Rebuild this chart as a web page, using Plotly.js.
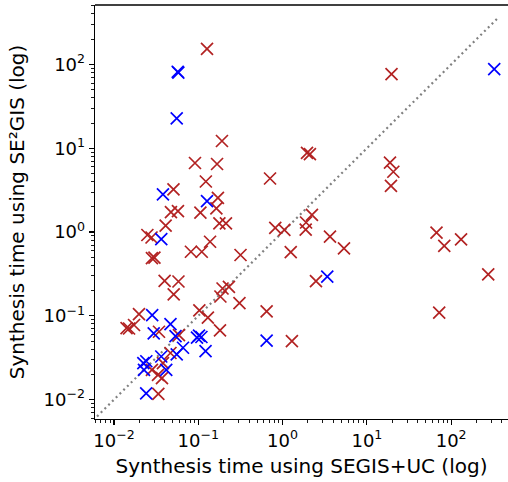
<!DOCTYPE html>
<html>
<head>
<meta charset="utf-8">
<script src="https://cdn.plot.ly/plotly-3.0.1.min.js"></script>
<style>html,body{margin:0;padding:0;background:#fff;}#chart{width:508px;height:482px;}</style>
</head>
<body>
<div id="chart"></div>
<script>
// SEGIS+UC time (x) vs SE2GIS time (y), seconds
const redX = [0.127,0.191,0.0914,0.167,0.123,0.0508,0.171,0.164,0.0474,0.0574,0.106,0.0410,0.178,0.213,0.0249,0.0279,0.138,0.0818,0.110,0.317,0.0282,0.0302,0.0399,0.0582,0.0511,0.194,0.231,0.183,0.308,0.103,0.130,0.0198,0.0173,0.0141,0.0151,0.0342,0.0590,0.181,0.0468,0.0282,0.0333,0.0371,0.0381,0.0336,1.95,2.11,0.710,2.23,1.90,1.88,0.819,1.05,3.65,5.35,1.25,2.49,0.647,1.29,19.6,18.8,20.6,19.3,67.0,82.8,131,275,72.1];
const redY = [153,12.2,6.66,6.48,4.01,3.22,2.55,1.92,1.73,1.78,1.70,1.19,1.27,1.27,0.921,0.860,0.766,0.582,0.582,0.532,0.489,0.496,0.262,0.257,0.180,0.212,0.221,0.170,0.142,0.116,0.0954,0.105,0.0777,0.0715,0.0706,0.0646,0.0590,0.0671,0.0360,0.0226,0.0197,0.0181,0.0273,0.0117,8.8,8.5,4.35,1.60,1.30,1.07,1.12,1.06,0.879,0.639,0.577,0.260,0.113,0.0500,76.8,6.75,5.24,3.56,0.986,0.684,0.818,0.313,0.109];
const blueX = [0.0570,0.0580,0.0555,0.0381,0.127,0.0364,3.39,0.647,324,0.0284,0.0296,0.0468,0.0537,0.0966,0.109,0.102,0.122,0.0659,0.0555,0.0364,0.0242,0.0223,0.0227,0.0417,0.0241];
const blueY = [81.8,80.0,22.7,2.82,2.34,0.825,0.293,0.0507,88.1,0.102,0.0618,0.0798,0.0574,0.0551,0.0559,0.0580,0.0380,0.0416,0.0347,0.0327,0.0287,0.0273,0.0226,0.0226,0.0119];
const diagX = [0.0063, 365];
const diagY = [0.0063, 365];
const xTickVals = [0.01, 0.1, 1, 10, 100];
const xTickText = ["10<sup>−2</sup>", "10<sup>−1</sup>", "10<sup>0</sup>", "10<sup>1</sup>", "10<sup>2</sup>"];
const yTickVals = [0.01, 0.1, 1, 10, 100];
const yTickText = ["10<sup>−2</sup>", "10<sup>−1</sup>", "10<sup>0</sup>", "10<sup>1</sup>", "10<sup>2</sup>"];
const xTitle = "Synthesis time using SEGIS+UC (log)";
const yTitle = "Synthesis time using SE²GIS (log)";

const traces = [
  {x: diagX, y: diagY, type: 'scatter', mode: 'lines', hoverinfo: 'skip',
   line: {color: '#808080', width: 2.2, dash: '2px,3.3px'}},
  {x: redX, y: redY, type: 'scatter', mode: 'markers',
   marker: {symbol: 'x-thin', size: 12, color: '#b22222', line: {color: '#b22222', width: 1.7}}},
  {x: blueX, y: blueY, type: 'scatter', mode: 'markers',
   marker: {symbol: 'x-thin', size: 12, color: '#0000ff', line: {color: '#0000ff', width: 1.7}}}
];

const axisCommon = {
  type: 'log', tickmode: 'array', showgrid: false, zeroline: false,
  showline: true, linecolor: '#000', linewidth: 1.3,
  ticks: 'outside', ticklen: 5, tickwidth: 1.1, tickcolor: '#000',
  tickfont: {family: 'DejaVu Sans', size: 18, color: '#000'},
  minor: {ticks: 'outside', ticklen: 3, tickwidth: 0.9, tickcolor: '#000', dtick: 'D1', showgrid: false}
};

const layout = {
  width: 508, height: 482,
  margin: {l: 95, r: 0, t: 5, b: 63},
  paper_bgcolor: '#fff', plot_bgcolor: '#fff',
  showlegend: false,
  font: {family: 'DejaVu Sans', color: '#000'},
  xaxis: Object.assign({}, axisCommon, {
    range: [-2.225, 2.674], mirror: false, tickvals: xTickVals, ticktext: xTickText,
    title: {text: xTitle, font: {family: 'DejaVu Sans', size: 20, color: '#000'}, standoff: 9}
  }),
  yaxis: Object.assign({}, axisCommon, {
    range: [-2.231, 2.709], tickvals: yTickVals, ticktext: yTickText,
    title: {text: yTitle, font: {family: 'DejaVu Sans', size: 20, color: '#000'}, standoff: 13}
  }),
  shapes: [{type: 'line', xref: 'paper', yref: 'paper', x0: 0, x1: 1, y0: 1, y1: 1,
            line: {color: '#000', width: 1.3}}]
};

Plotly.newPlot('chart', traces, layout, {displayModeBar: false, staticPlot: true});
</script>
</body>
</html>
